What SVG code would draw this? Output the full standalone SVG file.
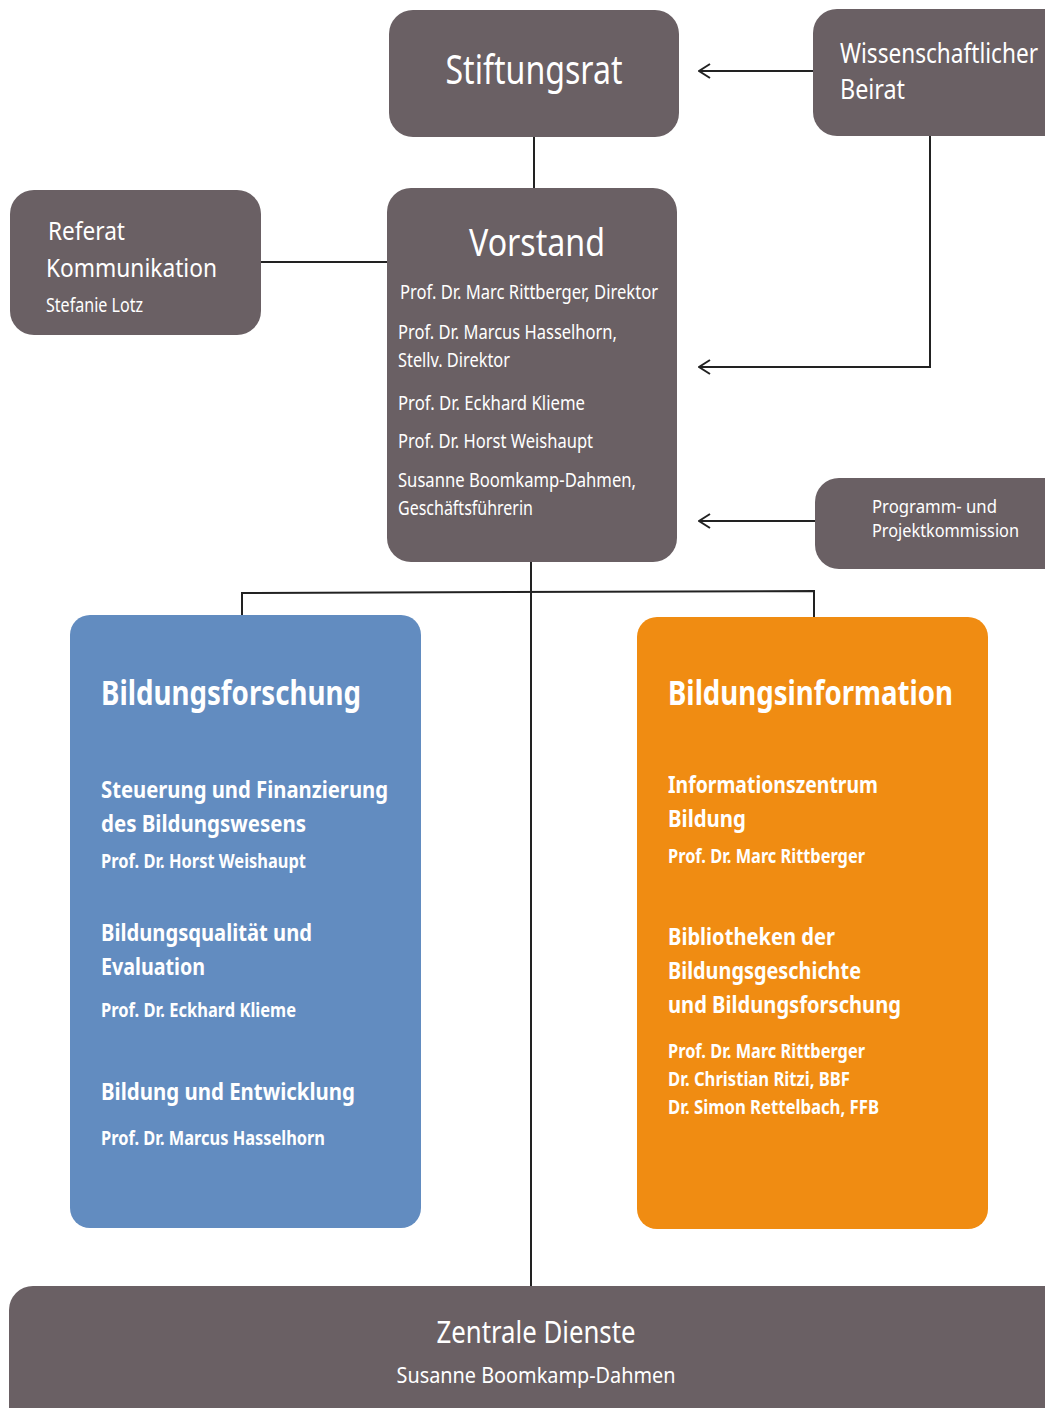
<svg xmlns="http://www.w3.org/2000/svg" width="1045" height="1408" viewBox="0 0 1045 1408">
<style>
.g{fill:#6a6064}
.b{fill:#628cc0}
.o{fill:#f08c12}
text{font-family:"Noto Sans","Open Sans","DejaVu Sans",sans-serif;fill:#ffffff}
.bd{font-weight:bold}
.ln{stroke:#222222;stroke-width:2;fill:none}
</style>
<defs>
<marker id="arr" markerUnits="userSpaceOnUse" markerWidth="14" markerHeight="18" viewBox="-13 -9 14 18" refX="0" refY="0" orient="auto">
<path d="M-11,-7 L0,0 L-11,7" fill="none" stroke="#222222" stroke-width="2"/>
</marker>
</defs>
<rect width="1045" height="1408" fill="#ffffff"/>
<g id="connectors">
<line class="ln" x1="534" y1="137" x2="534" y2="189"/>
<line class="ln" x1="813" y1="71" x2="699" y2="71" marker-end="url(#arr)"/>
<polyline class="ln" points="930,136 930,367 699,367" marker-end="url(#arr)"/>
<line class="ln" x1="815" y1="521" x2="699" y2="521" marker-end="url(#arr)"/>
<line class="ln" x1="261" y1="262" x2="388" y2="262"/>
<line class="ln" x1="531" y1="562" x2="531" y2="1287"/>
<polyline class="ln" points="242,616 242,593 814,591 814,618"/>
</g>
<g id="stiftungsrat">
<rect class="g" x="389" y="10" width="290" height="127" rx="24"/>
<text x="534" y="84" font-size="40" text-anchor="middle" textLength="177" lengthAdjust="spacingAndGlyphs">Stiftungsrat</text>
</g>
<g id="beirat">
<rect class="g" x="813" y="9" width="270" height="127" rx="24"/>
<text x="840" y="63" font-size="27" textLength="198" lengthAdjust="spacingAndGlyphs">Wissenschaftlicher</text>
<text x="840" y="99" font-size="27" textLength="65" lengthAdjust="spacingAndGlyphs">Beirat</text>
</g>
<g id="referat">
<rect class="g" x="10" y="190" width="251" height="145" rx="24"/>
<text x="48" y="240" font-size="26" textLength="77" lengthAdjust="spacingAndGlyphs">Referat</text>
<text x="46" y="277" font-size="26" textLength="171" lengthAdjust="spacingAndGlyphs">Kommunikation</text>
<text x="46" y="312" font-size="19" textLength="97" lengthAdjust="spacingAndGlyphs">Stefanie Lotz</text>
</g>
<g id="vorstand">
<rect class="g" x="387" y="188" width="290" height="374" rx="24"/>
<text x="537" y="256" font-size="39" text-anchor="middle" textLength="136" lengthAdjust="spacingAndGlyphs">Vorstand</text>
<text x="400" y="299" font-size="19" textLength="258" lengthAdjust="spacingAndGlyphs">Prof. Dr. Marc Rittberger, Direktor</text>
<text x="398" y="339" font-size="19" textLength="219" lengthAdjust="spacingAndGlyphs">Prof. Dr. Marcus Hasselhorn,</text>
<text x="398" y="367" font-size="19" textLength="112" lengthAdjust="spacingAndGlyphs">Stellv. Direktor</text>
<text x="398" y="410" font-size="19" textLength="187" lengthAdjust="spacingAndGlyphs">Prof. Dr. Eckhard Klieme</text>
<text x="398" y="448" font-size="19" textLength="195" lengthAdjust="spacingAndGlyphs">Prof. Dr. Horst Weishaupt</text>
<text x="398" y="487" font-size="19" textLength="238" lengthAdjust="spacingAndGlyphs">Susanne Boomkamp-Dahmen,</text>
<text x="398" y="515" font-size="19" textLength="135" lengthAdjust="spacingAndGlyphs">Geschäftsführerin</text>
</g>
<g id="kommission">
<rect class="g" x="815" y="478" width="260" height="91" rx="24"/>
<text x="872" y="513" font-size="18" textLength="125" lengthAdjust="spacingAndGlyphs">Programm- und</text>
<text x="872" y="537" font-size="18" textLength="147" lengthAdjust="spacingAndGlyphs">Projektkommission</text>
</g>
<g id="bildungsforschung">
<rect class="b" x="70" y="615" width="351" height="613" rx="20"/>
<text class="bd" x="101" y="705" font-size="34" textLength="260" lengthAdjust="spacingAndGlyphs">Bildungsforschung</text>
<text class="bd" x="101" y="798" font-size="24" textLength="287" lengthAdjust="spacingAndGlyphs">Steuerung und Finanzierung</text>
<text class="bd" x="101" y="832" font-size="24" textLength="205" lengthAdjust="spacingAndGlyphs">des Bildungswesens</text>
<text class="bd" x="101" y="868" font-size="19" textLength="205" lengthAdjust="spacingAndGlyphs">Prof. Dr. Horst Weishaupt</text>
<text class="bd" x="101" y="941" font-size="24" textLength="211" lengthAdjust="spacingAndGlyphs">Bildungsqualität und</text>
<text class="bd" x="101" y="975" font-size="24" textLength="104" lengthAdjust="spacingAndGlyphs">Evaluation</text>
<text class="bd" x="101" y="1017" font-size="19" textLength="195" lengthAdjust="spacingAndGlyphs">Prof. Dr. Eckhard Klieme</text>
<text class="bd" x="101" y="1100" font-size="24" textLength="254" lengthAdjust="spacingAndGlyphs">Bildung und Entwicklung</text>
<text class="bd" x="101" y="1145" font-size="19" textLength="224" lengthAdjust="spacingAndGlyphs">Prof. Dr. Marcus Hasselhorn</text>
</g>
<g id="bildungsinformation">
<rect class="o" x="637" y="617" width="351" height="612" rx="20"/>
<text class="bd" x="668" y="705" font-size="34" textLength="285" lengthAdjust="spacingAndGlyphs">Bildungsinformation</text>
<text class="bd" x="668" y="793" font-size="24" textLength="210" lengthAdjust="spacingAndGlyphs">Informationszentrum</text>
<text class="bd" x="668" y="827" font-size="24" textLength="78" lengthAdjust="spacingAndGlyphs">Bildung</text>
<text class="bd" x="668" y="863" font-size="19" textLength="197" lengthAdjust="spacingAndGlyphs">Prof. Dr. Marc Rittberger</text>
<text class="bd" x="668" y="945" font-size="24" textLength="167" lengthAdjust="spacingAndGlyphs">Bibliotheken der</text>
<text class="bd" x="668" y="979" font-size="24" textLength="193" lengthAdjust="spacingAndGlyphs">Bildungsgeschichte</text>
<text class="bd" x="668" y="1013" font-size="24" textLength="233" lengthAdjust="spacingAndGlyphs">und Bildungsforschung</text>
<text class="bd" x="668" y="1058" font-size="19" textLength="197" lengthAdjust="spacingAndGlyphs">Prof. Dr. Marc Rittberger</text>
<text class="bd" x="668" y="1086" font-size="19" textLength="182" lengthAdjust="spacingAndGlyphs">Dr. Christian Ritzi, BBF</text>
<text class="bd" x="668" y="1114" font-size="19" textLength="211" lengthAdjust="spacingAndGlyphs">Dr. Simon Rettelbach, FFB</text>
</g>
<g id="zentrale-dienste">
<rect class="g" x="9" y="1286" width="1070" height="160" rx="24"/>
<text x="536" y="1343" font-size="30" text-anchor="middle" textLength="199" lengthAdjust="spacingAndGlyphs">Zentrale Dienste</text>
<text x="536" y="1383" font-size="21" text-anchor="middle" textLength="279" lengthAdjust="spacingAndGlyphs">Susanne Boomkamp-Dahmen</text>
</g>
</svg>
